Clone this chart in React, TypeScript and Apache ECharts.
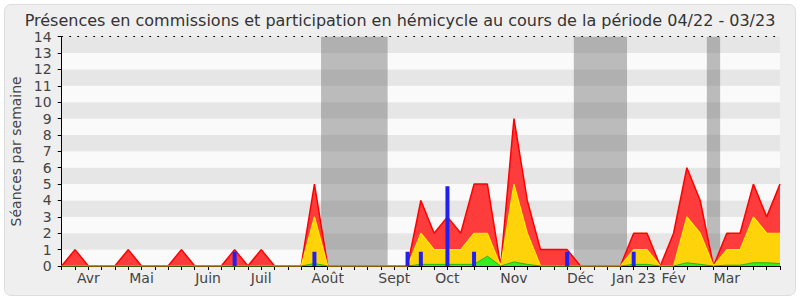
import React, { useEffect, useRef } from "react";
import * as echarts from "echarts";

const TITLE = "Présences en commissions et participation en hémicycle au cours de la période 04/22 - 03/23";
const Y_NAME = "Séances par semaine";

// weekly points 0..54
const weekIndex = [
  0, 1, 2, 3, 4, 5, 6, 7, 8, 9, 10, 11, 12, 13, 14, 15, 16, 17, 18, 19, 20, 21, 22, 23, 24, 25, 26, 27,
  28, 29, 30, 31, 32, 33, 34, 35, 36, 37, 38, 39, 40, 41, 42, 43, 44, 45, 46, 47, 48, 49, 50, 51, 52, 53, 54,
];

const monthTickIdx = [2, 6, 11, 15, 20, 25, 29, 34, 39, 43, 46, 50];
const monthNames = ["Avr", "Mai", "Juin", "Juil", "Août", "Sept", "Oct", "Nov", "Déc", "Jan 23", "Fév", "Mar"];

// total presence (red)
const redValues = [
  0, 1, 0, 0, 0, 1, 0, 0, 0, 1, 0, 0, 0, 1, 0, 1, 0, 0, 0, 5, 0, 0, 0, 0, 0, 0, 0, 4, 2, 3, 2, 5, 5, 0, 9, 4,
  1, 1, 1, 0, 0, 0, 0, 2, 2, 0, 2, 6, 4, 0, 2, 2, 5, 3, 5,
];
// commission presence (yellow)
const yellowValues = [
  0, 0, 0, 0, 0, 0, 0, 0, 0, 0, 0, 0, 0, 0, 0, 0, 0, 0, 0, 3, 0, 0, 0, 0, 0, 0, 0, 2, 1, 1, 1, 2, 2, 0, 5, 2,
  0, 0, 0, 0, 0, 0, 0, 1, 1, 0, 0, 3, 2, 0, 1, 1, 3, 2, 2,
];
// interventions (green)
const greenValues = [
  0, 0, 0, 0, 0, 0, 0, 0, 0, 0, 0, 0, 0, 0, 0, 0, 0, 0, 0, 0.15, 0, 0, 0, 0, 0, 0, 0, 0.1, 0.1, 0.1, 0.1, 0.1,
  0.6, 0, 0.25, 0.1, 0, 0, 0, 0, 0, 0, 0, 0.1, 0.1, 0, 0, 0.2, 0.1, 0, 0.05, 0.05, 0.2, 0.2, 0.15,
];
// questions (blue bars)
const blueIdx = [13, 19, 26, 27, 29, 31, 38, 43];
const blueValues = [0.87, 0.87, 0.87, 0.87, 4.87, 0.87, 0.87, 0.87];

// holiday periods (grey bands)
const vacStart = [19.5, 38.5, 48.5];
const vacEnd = [24.5, 42.5, 49.5];

const FONT = "DejaVu Sans";

export default function App() {
  const ref = useRef<HTMLDivElement>(null);
  useEffect(() => {
    if (!ref.current) return;
    const chart = echarts.init(ref.current, undefined, { renderer: "svg" });
    const labelMap: Record<number, string> = {};
    monthTickIdx.forEach((k, i) => (labelMap[k] = monthNames[i]));
    const pairs = (arr: number[]) => arr.map((v, i) => [weekIndex[i], v]);
    chart.setOption({
      animation: false,
      backgroundColor: "transparent",
      title: {
        text: TITLE,
        left: "center",
        top: 7,
        textStyle: { fontFamily: FONT, fontSize: 16, fontWeight: "normal", color: "#333" },
      },
      grid: { left: 61.7, right: 20, top: 36.7, bottom: 34, containLabel: false },
      xAxis: [
        {
          type: "value",
          min: 0,
          max: 54,
          interval: 1,
          axisLine: { show: true, onZero: false, lineStyle: { color: "#000", width: 1 } },
          axisTick: { show: true, length: 4, lineStyle: { color: "#000" } },
          splitLine: { show: false },
          axisLabel: {
            show: true,
            margin: 5,
            fontFamily: FONT,
            fontSize: 14,
            color: "#444",
            showMinLabel: true,
            showMaxLabel: true,
            hideOverlap: false,
            formatter: (v: number) => labelMap[Math.round(v)] || "",
          },
        },
        {
          type: "value",
          position: "top",
          min: 0,
          max: 54,
          interval: 1,
          axisLine: { show: true, onZero: false, lineStyle: { color: "#000", width: 1, type: [1, 7] } },
          axisTick: { show: false },
          axisLabel: { show: false },
          splitLine: { show: false },
        },
      ],
      yAxis: {
        type: "value",
        min: 0,
        max: 14,
        interval: 1,
        name: Y_NAME,
        nameLocation: "middle",
        nameGap: 38,
        nameTextStyle: { fontFamily: FONT, fontSize: 14, color: "#444" },
        axisLine: { show: true, lineStyle: { color: "#000", width: 1 } },
        axisTick: { show: true, length: 4, lineStyle: { color: "#000" } },
        axisLabel: { fontFamily: FONT, fontSize: 14, color: "#444", margin: 10 },
        splitLine: { show: false },
        splitArea: { show: true, areaStyle: { color: ["#fafafa", "#e6e6e6"] } },
      },
      series: [
        {
          type: "line",
          name: "vacances",
          data: [],
          z: 1,
          silent: true,
          markArea: {
            silent: true,
            itemStyle: { color: "rgba(110,110,110,0.45)" },
            data: vacStart.map((s, i) => [{ xAxis: s }, { xAxis: vacEnd[i] }]),
          },
        },
        {
          type: "line",
          name: "total",
          data: pairs(redValues),
          z: 2,
          symbol: "none",
          lineStyle: { color: "#ff0000", width: 1.5 },
          areaStyle: { color: "#ff3c3c", opacity: 1 },
        },
        {
          type: "line",
          name: "commission",
          data: pairs(yellowValues),
          z: 3,
          symbol: "none",
          lineStyle: { color: "#ffee00", width: 1.2 },
          areaStyle: { color: "#ffd30a", opacity: 1 },
        },
        {
          type: "line",
          name: "interventions",
          data: pairs(greenValues),
          z: 4,
          symbol: "none",
          lineStyle: { color: "#22bb00", width: 1 },
          areaStyle: { color: "#33ee22", opacity: 1 },
        },
        {
          type: "bar",
          name: "questions",
          data: blueIdx.map((k, i) => [k, blueValues[i]]),
          z: 5,
          barWidth: 4,
          itemStyle: { color: "#2020f0" },
        },
      ],
    });
    return () => chart.dispose();
  }, []);
  return (
    <div style={{ position: "absolute", left: 0, top: 0, width: 800, height: 300, background: "#fff" }}>
      <div
        style={{
          position: "absolute",
          left: 4,
          top: 4,
          width: 790,
          height: 290,
          borderRadius: 7,
          background: "#efefef",
          border: "1px solid #dddddd",
        }}
      />
      <div ref={ref} style={{ position: "absolute", left: 0, top: 0, width: 800, height: 300 }} />
    </div>
  );
}
